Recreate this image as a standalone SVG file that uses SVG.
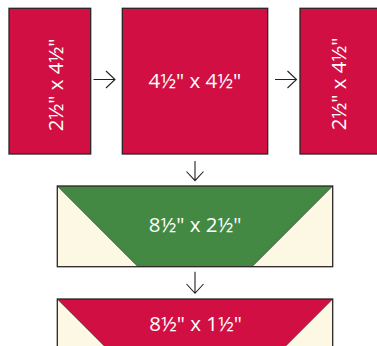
<svg xmlns="http://www.w3.org/2000/svg" width="377" height="346" viewBox="0 0 377 346">
<defs>
<style>
.box{stroke:#2b2426;stroke-width:1.3}
.red{fill:#d20f43}
.green{fill:#438943}
.cream{fill:#fdf8e3}
.lbl{font-family:"Open Sans","Liberation Sans",sans-serif;font-size:20.5px;fill:#ffffff;text-anchor:middle}
.arr{fill:none;stroke:#231f20;stroke-width:1.1}
</style>
</defs>
<rect width="377" height="346" fill="#ffffff"/>
<g id="box1">
<rect class="box red" x="9" y="8.3" width="81.7" height="145.7"/>
<text class="lbl" transform="translate(63,85) rotate(-90)">2½" x 4½"</text>
</g>
<g id="box2">
<rect class="box red" x="122.3" y="8.3" width="145.4" height="145.7"/>
<text class="lbl" x="194.8" y="87.5">4½" x 4½"</text>
</g>
<g id="box3">
<rect class="box red" x="300" y="8.3" width="81.7" height="145.7"/>
<text class="lbl" transform="translate(346,84) rotate(-90)">2½" x 4½"</text>
</g>
<g id="box4">
<rect class="cream" x="57.3" y="186" width="275.4" height="80.7"/>
<polygon class="green" points="57.3,186 332.7,186 252,266.7 138,266.7"/>
<line x1="57.3" y1="186" x2="138" y2="266.7" stroke="#2b2426" stroke-width="0.6"/>
<line x1="332.7" y1="186" x2="252" y2="266.7" stroke="#2b2426" stroke-width="0.6"/>
<rect class="box" fill="none" x="57.3" y="186" width="275.4" height="80.7"/>
<text class="lbl" x="195" y="232.3">8½" x 2½"</text>
</g>
<g id="box5">
<rect class="cream" x="57.3" y="299" width="275.4" height="60"/>
<polygon class="red" points="57.3,299 332.7,299 272.7,359 117.3,359"/>
<line x1="57.3" y1="299" x2="117.3" y2="359" stroke="#2b2426" stroke-width="0.6"/>
<line x1="332.7" y1="299" x2="272.7" y2="359" stroke="#2b2426" stroke-width="0.6"/>
<rect class="box" fill="none" x="57.3" y="299" width="275.4" height="60"/>
<text class="lbl" x="195.5" y="331">8½" x 1½"</text>
</g>
<g id="connectors">
<path class="arr" d="M93.5,79.5H115M106,71l9,8.5l-9,8.5"/>
<path class="arr" d="M275,79.5H296.5M287.5,71l9,8.5l-9,8.5"/>
<path class="arr" d="M195,161V180.7M186.5,171.5l8.5,9.2l8.5,-9.2"/>
<path class="arr" d="M195,271.7V293.3M186.5,284l8.5,9.3l8.5,-9.3"/>
</g>
</svg>
